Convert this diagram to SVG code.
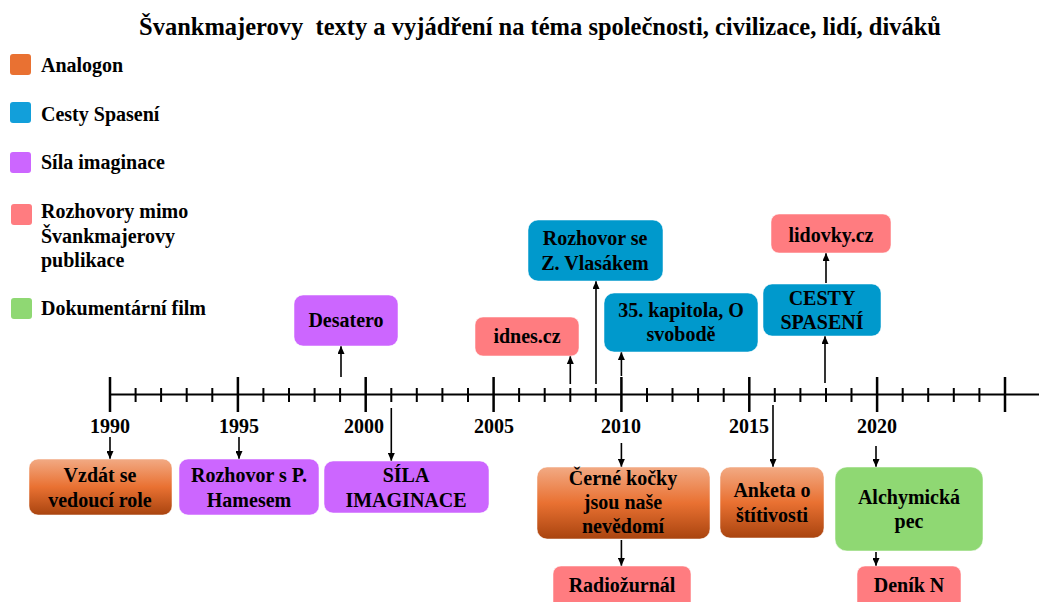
<svg xmlns="http://www.w3.org/2000/svg" width="1039" height="602" viewBox="0 0 1039 602">
<defs>
<linearGradient id="orange" x1="0" y1="0" x2="0" y2="1">
<stop offset="0" stop-color="#F2AA84"/>
<stop offset="0.5" stop-color="#E97132"/>
<stop offset="1" stop-color="#A9440F"/>
</linearGradient>
<marker id="ah" viewBox="0 0 8 7" markerWidth="8" markerHeight="7" refX="8" refY="3.5" orient="auto" markerUnits="userSpaceOnUse">
<path d="M0,0 L8,3.5 L0,7 z" fill="#000"/>
</marker>
</defs>
<style>
.or{fill:url(#orange);}
.bl{fill:#0099CC;}
.pu{fill:#CC66FF;}
.pk{fill:#FF7C80;}
.gr{fill:#8FD873;}
.box{stroke:#ffffff;stroke-opacity:0.5;stroke-width:1;}
.ar{stroke:#000;stroke-width:1.6;fill:none;marker-end:url(#ah);}
</style>
<rect width="1039" height="602" fill="#fff"/>
<text style="font-family:'Liberation Serif',serif;font-weight:bold;font-size:24.5px" x="540" y="35" text-anchor="middle" xml:space="preserve">Švankmajerovy  texty a vyjádření na téma společnosti, civilizace, lidí, diváků</text>

<g id="legend">
<rect x="10" y="54" width="21" height="21" rx="3" fill="#E97132"/>
<text style="font-family:'Liberation Serif',serif;font-weight:bold;font-size:20px" x="41" y="72">Analogon</text>
<rect x="10" y="102" width="21" height="21" rx="3" fill="#129FDA"/>
<text style="font-family:'Liberation Serif',serif;font-weight:bold;font-size:20px" x="41" y="121">Cesty Spasení</text>
<rect x="10" y="152" width="21" height="21" rx="3" fill="#CC66FF"/>
<text style="font-family:'Liberation Serif',serif;font-weight:bold;font-size:20px" x="41" y="169">Síla imaginace</text>
<rect x="11" y="204" width="21" height="21" rx="3" fill="#FF7C80"/>
<text style="font-family:'Liberation Serif',serif;font-weight:bold;font-size:20px" x="41" y="218">Rozhovory mimo</text>
<text style="font-family:'Liberation Serif',serif;font-weight:bold;font-size:20px" x="41" y="243">Švankmajerovy</text>
<text style="font-family:'Liberation Serif',serif;font-weight:bold;font-size:20px" x="41" y="267">publikace</text>
<rect x="11" y="298" width="21" height="21" rx="3" fill="#8FD873"/>
<text style="font-family:'Liberation Serif',serif;font-weight:bold;font-size:20px" x="41" y="315">Dokumentární film</text>
</g>

<g id="axis" stroke="#000" fill="none">
<line x1="110" y1="394.5" x2="1039" y2="394.5" stroke-width="2"/>
<path stroke-width="2.5" d="M110,377V412 M237.9,377V412 M365.7,377V412 M493.6,377V412 M621.4,377V412 M749.3,377V412 M877.1,377V412 M1005,377V412"/>
<path stroke-width="2" d="M135.6,388V402 M161.1,388V402 M186.7,388V402 M212.3,388V402 M263.4,388V402 M289,388V402 M314.6,388V402 M340.1,388V402 M391.3,388V402 M416.8,388V402 M442.4,388V402 M468,388V402 M519.1,388V402 M544.7,388V402 M570.3,388V402 M595.8,388V402 M647,388V402 M672.5,388V402 M698.1,388V402 M723.7,388V402 M774.8,388V402 M800.4,388V402 M826,388V402 M851.5,388V402 M902.7,388V402 M928.2,388V402 M953.8,388V402 M979.4,388V402"/>
</g>
<g id="years">
<text style="font-family:'Liberation Serif',serif;font-weight:bold;font-size:20px" text-anchor="middle" x="110" y="433">1990</text>
<text style="font-family:'Liberation Serif',serif;font-weight:bold;font-size:20px" text-anchor="middle" x="239" y="433">1995</text>
<text style="font-family:'Liberation Serif',serif;font-weight:bold;font-size:20px" text-anchor="middle" x="364" y="433">2000</text>
<text style="font-family:'Liberation Serif',serif;font-weight:bold;font-size:20px" text-anchor="middle" x="494" y="433">2005</text>
<text style="font-family:'Liberation Serif',serif;font-weight:bold;font-size:20px" text-anchor="middle" x="621" y="433">2010</text>
<text style="font-family:'Liberation Serif',serif;font-weight:bold;font-size:20px" text-anchor="middle" x="749" y="433">2015</text>
<text style="font-family:'Liberation Serif',serif;font-weight:bold;font-size:20px" text-anchor="middle" x="877" y="433">2020</text>
</g>

<g id="connectors">
<line class="ar" x1="110" y1="437" x2="110" y2="459"/>
<line class="ar" x1="239" y1="437" x2="239" y2="459"/>
<line class="ar" x1="391.3" y1="408" x2="391.3" y2="461"/>
<line class="ar" x1="341" y1="377" x2="341" y2="346"/>
<line class="ar" x1="570.3" y1="384" x2="570.3" y2="356"/>
<line class="ar" x1="596" y1="384" x2="596" y2="281"/>
<line class="ar" x1="621.4" y1="376" x2="621.4" y2="352"/>
<line class="ar" x1="621.4" y1="443" x2="621.4" y2="467"/>
<line class="ar" x1="621.4" y1="540" x2="621.4" y2="566"/>
<line class="ar" x1="773" y1="405" x2="773" y2="467"/>
<line class="ar" x1="825" y1="383" x2="825" y2="336"/>
<line class="ar" x1="826" y1="283" x2="826" y2="253"/>
<line class="ar" x1="876" y1="446" x2="876" y2="467"/>
<line class="ar" x1="876" y1="552" x2="876" y2="566"/>
</g>

<g id="n-vzdat">
<rect class="box or" x="29" y="459" width="143" height="56" rx="9"/>
<text style="font-family:'Liberation Serif',serif;font-weight:bold;font-size:20px" text-anchor="middle" x="100" y="482">Vzdát se</text>
<text style="font-family:'Liberation Serif',serif;font-weight:bold;font-size:20px" text-anchor="middle" x="100" y="507">vedoucí role</text>
</g>
<g id="n-hames">
<rect class="box pu" x="179" y="459" width="140" height="56" rx="9"/>
<text style="font-family:'Liberation Serif',serif;font-weight:bold;font-size:20px" text-anchor="middle" x="249" y="482">Rozhovor s P.</text>
<text style="font-family:'Liberation Serif',serif;font-weight:bold;font-size:20px" text-anchor="middle" x="249" y="507">Hamesem</text>
</g>
<g id="n-sila">
<rect class="box pu" x="324" y="461" width="165" height="52" rx="9"/>
<text style="font-family:'Liberation Serif',serif;font-weight:bold;font-size:20px" text-anchor="middle" x="406" y="482">SÍLA</text>
<text style="font-family:'Liberation Serif',serif;font-weight:bold;font-size:20px" text-anchor="middle" x="406" y="507">IMAGINACE</text>
</g>
<g id="n-desatero">
<rect class="box pu" x="294" y="295" width="104" height="51" rx="9"/>
<text style="font-family:'Liberation Serif',serif;font-weight:bold;font-size:20px" text-anchor="middle" x="346" y="327">Desatero</text>
</g>
<g id="n-idnes">
<rect class="box pk" x="475" y="317" width="104" height="39" rx="8"/>
<text style="font-family:'Liberation Serif',serif;font-weight:bold;font-size:20px" text-anchor="middle" x="527" y="343">idnes.cz</text>
</g>
<g id="n-vlasak">
<rect class="box bl" x="528" y="220" width="135" height="61" rx="10"/>
<text style="font-family:'Liberation Serif',serif;font-weight:bold;font-size:20px" text-anchor="middle" x="595" y="245">Rozhovor se</text>
<text style="font-family:'Liberation Serif',serif;font-weight:bold;font-size:20px" text-anchor="middle" x="595" y="270">Z. Vlasákem</text>
</g>
<g id="n-kapitola">
<rect class="box bl" x="604" y="293" width="154" height="59" rx="10"/>
<text style="font-family:'Liberation Serif',serif;font-weight:bold;font-size:20px" text-anchor="middle" x="681" y="317">35. kapitola, O</text>
<text style="font-family:'Liberation Serif',serif;font-weight:bold;font-size:20px" text-anchor="middle" x="681" y="341">svobodě</text>
</g>
<g id="n-cesty">
<rect class="box bl" x="763" y="284" width="118" height="52" rx="9"/>
<text style="font-family:'Liberation Serif',serif;font-weight:bold;font-size:20px" text-anchor="middle" x="822" y="305">CESTY</text>
<text style="font-family:'Liberation Serif',serif;font-weight:bold;font-size:20px" text-anchor="middle" x="822" y="329">SPASENÍ</text>
</g>
<g id="n-lidovky">
<rect class="box pk" x="771" y="214" width="120" height="39" rx="8"/>
<text style="font-family:'Liberation Serif',serif;font-weight:bold;font-size:20px" text-anchor="middle" x="831" y="242">lidovky.cz</text>
</g>
<g id="n-cerne">
<rect class="box or" x="537" y="467" width="173" height="72" rx="10"/>
<text style="font-family:'Liberation Serif',serif;font-weight:bold;font-size:20px" text-anchor="middle" x="623" y="485">Černé kočky</text>
<text style="font-family:'Liberation Serif',serif;font-weight:bold;font-size:20px" text-anchor="middle" x="623" y="509">jsou naše</text>
<text style="font-family:'Liberation Serif',serif;font-weight:bold;font-size:20px" text-anchor="middle" x="623" y="533">nevědomí</text>
</g>
<g id="n-radio">
<rect class="box pk" x="553" y="566" width="138" height="46" rx="8"/>
<text style="font-family:'Liberation Serif',serif;font-weight:bold;font-size:20px" text-anchor="middle" x="622" y="592">Radiožurnál</text>
</g>
<g id="n-anketa">
<rect class="box or" x="720" y="467" width="104" height="71" rx="10"/>
<text style="font-family:'Liberation Serif',serif;font-weight:bold;font-size:20px" text-anchor="middle" x="772" y="497">Anketa o</text>
<text style="font-family:'Liberation Serif',serif;font-weight:bold;font-size:20px" text-anchor="middle" x="772" y="522">štítivosti</text>
</g>
<g id="n-alchym">
<rect class="box gr" x="835" y="467" width="148" height="84" rx="12"/>
<text style="font-family:'Liberation Serif',serif;font-weight:bold;font-size:20px" text-anchor="middle" x="909" y="504">Alchymická</text>
<text style="font-family:'Liberation Serif',serif;font-weight:bold;font-size:20px" text-anchor="middle" x="909" y="528">pec</text>
</g>
<g id="n-denik">
<rect class="box pk" x="857" y="566" width="104" height="46" rx="8"/>
<text style="font-family:'Liberation Serif',serif;font-weight:bold;font-size:20px" text-anchor="middle" x="909" y="592">Deník N</text>
</g>
</svg>
